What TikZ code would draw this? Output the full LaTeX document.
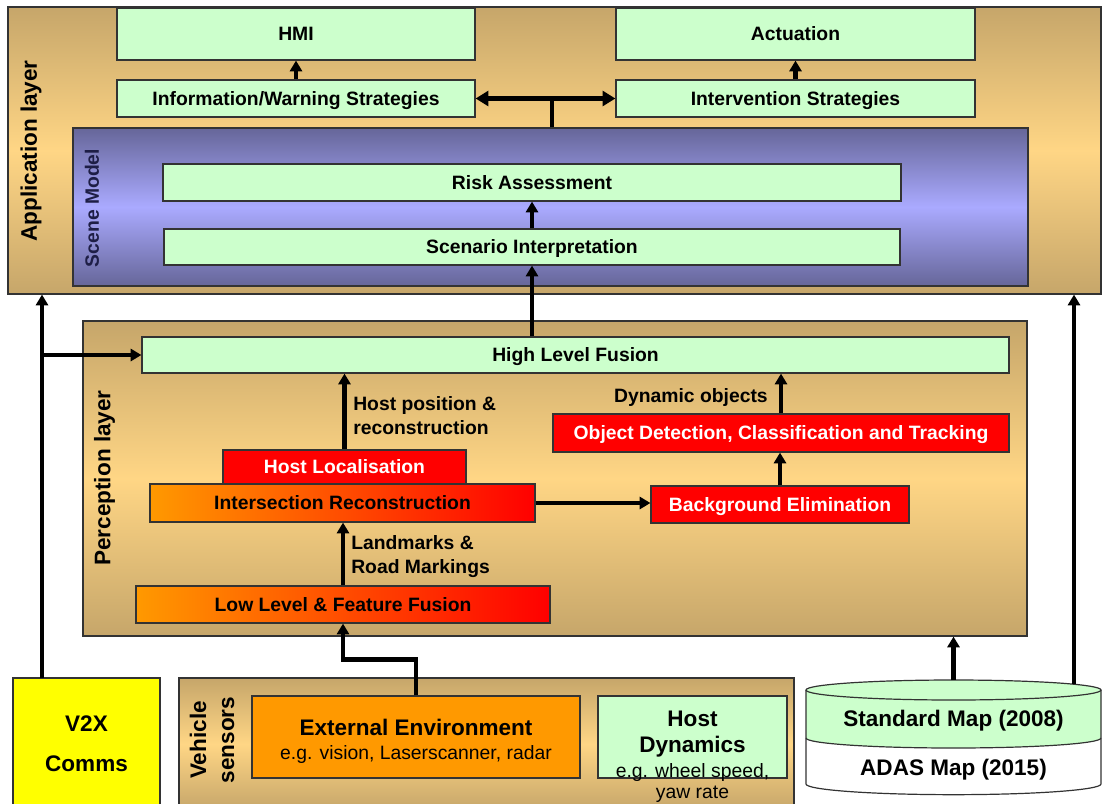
\documentclass[tikz,border=0pt]{standalone}
\usepackage{fontspec}
\setmainfont{Liberation Sans}
\usepackage{tikz}
\usetikzlibrary{arrows.meta,positioning,calc}
\definecolor{adtan}{RGB}{198,166,106}
\definecolor{adlight}{RGB}{255,214,133}
\definecolor{adpurp}{RGB}{102,102,153}
\definecolor{adlav}{RGB}{170,170,255}
\definecolor{adnavy}{RGB}{30,30,70}
\definecolor{adgreen}{RGB}{204,255,204}
\definecolor{adred}{RGB}{255,0,0}
\definecolor{adorange}{RGB}{255,153,0}
\definecolor{adyellow}{RGB}{255,255,0}
\definecolor{adedge}{RGB}{51,51,51}
\newcommand\adfont{\fontsize{14.5}{18}\selectfont}
\newcommand\adbig{\fontsize{16.9}{20}\selectfont}
\tikzset{
  adbox/.style={
    draw=adedge, line width=0.9pt, inner sep=0pt, align=center,
    font=\adfont\bfseries, text height=10.4pt, text depth=0pt
  },
  grn/.style={adbox, fill=adgreen},
  redbx/.style={adbox, fill=adred, text=white},
  ograd/.style={adbox, left color=adorange, right color=adred},
  laybox/.style={
    draw=adedge, line width=0.9pt, inner sep=0pt,
    top color=adtan, bottom color=adtan, middle color=adlight
  },
  scenebx/.style={
    draw=adedge, line width=0.9pt, inner sep=0pt,
    top color=adpurp, bottom color=adpurp, middle color=adlav
  },
  laylbl/.style={rotate=90, inner sep=0pt, font=\adbig\bfseries},
  bigtxt/.style={inner sep=0pt, font=\adbig\bfseries, text height=12.1pt, text depth=0pt},
  smalltxt/.style={inner sep=0pt, font=\adfont, text height=10.4pt, text depth=0pt},
  arrlbl/.style={inner sep=0pt, align=left, font=\adfont\bfseries},
  arr/.style={-{Triangle[length=8pt,width=9pt]}, line width=3.2pt},
  dblarr/.style={{Triangle[length=9.5pt,width=11pt]}-{Triangle[length=9.5pt,width=11pt]}, line width=3.4pt},
  thk/.style={line width=3.6pt},
  mapline/.style={draw=adedge, line width=0.9pt}
}
\begin{document}
\begin{tikzpicture}[x=0.75pt,y=-0.75pt]
  \useasboundingbox (0,0) rectangle (1102,803);
  % application layer
  \node[laybox, minimum width=819.75pt, minimum height=215.25pt] (app) at (554.5,150.5) {};
  \node[laylbl] (applbl) at (31,151) {Application layer};
  \node[grn, minimum width=268.5pt, minimum height=39pt] (hmi) at (296,34) {HMI};
  \node[grn, minimum width=269.25pt, minimum height=39pt] (act) at (795.5,34) {Actuation};
  \node[grn, minimum width=268.5pt, minimum height=27.75pt] (info) at (296,98.5) {Information/Warning Strategies};
  \node[grn, minimum width=269.25pt, minimum height=27.75pt] (interv) at (795.5,98.5) {Intervention Strategies};
  \node[scenebx, minimum width=716.25pt, minimum height=118.5pt] (scene) at (550.5,207) {};
  \node[laylbl, font=\adfont\bfseries, text=adnavy] (scenelbl) at (92,208) {Scene Model};
  \node[grn, minimum width=553.5pt, minimum height=27.75pt] (risk) at (532,182.5) {Risk Assessment};
  \node[grn, minimum width=552pt, minimum height=27pt] (scen) at (532,247) {Scenario Interpretation};
  % perception layer
  \node[laybox, minimum width=708pt, minimum height=236.25pt] (perc) at (555,478.5) {};
  \node[laylbl] (perclbl) at (104.5,478) {Perception layer};
  \node[grn, minimum width=650.25pt, minimum height=27pt] (hlf) at (575.5,355) {High Level Fusion};
  \node[redbx, minimum width=182.25pt, minimum height=25.5pt] (hostloc) at (344.5,467) {Host Localisation};
  \node[ograd, minimum width=288.75pt, minimum height=28.5pt] (isect) at (342.5,503) {Intersection Reconstruction};
  \node[redbx, minimum width=193.5pt, minimum height=27.75pt] (bgelim) at (780,504.5) {Background Elimination};
  \node[redbx, minimum width=342pt, minimum height=28.5pt] (odct) at (781,433) {Object Detection, Classification and Tracking};
  \node[ograd, minimum width=310.5pt, minimum height=27.75pt] (llff) at (343,604.5) {Low Level \& Feature Fusion};
  \node[arrlbl, anchor=west] (hostposlbl) at (353,416) {Host position \&\\reconstruction};
  \node[arrlbl, anchor=west] (landlbl) at (351,557) {Landmarks \&\\Road Markings};
  \node[smalltxt, font=\adfont\bfseries, anchor=east] (dynlbl) at (768,396) {Dynamic objects};
  % inputs
  \node[adbox, fill=adyellow, minimum width=110.25pt, minimum height=99pt] (v2x) at (86.5,744) {};
  \node[bigtxt] (v2xa) at (86.5,723) {V2X};
  \node[bigtxt] (v2xb) at (86.5,763) {Comms};
  \node[laybox, minimum width=461.25pt, minimum height=99pt] (vsens) at (486.5,744) {};
  \node[bigtxt, rotate=90] (vsensa) at (198,740) {Vehicle};
  \node[bigtxt, rotate=90] (vsensb) at (226,740) {sensors};
  \node[adbox, fill=adorange, minimum width=246pt, minimum height=61.5pt] (extenv) at (416,737) {};
  \node[bigtxt] (extenva) at (416,727) {External Environment};
  \node[smalltxt] (extenvb) at (416,753) {e.g. vision, Laserscanner, radar};
  \node[grn, minimum width=141.75pt, minimum height=61.5pt] (hostdyn) at (692.5,737) {};
  \node[bigtxt] (hostdyna) at (692.5,718) {Host};
  \node[bigtxt] (hostdynb) at (692.5,744) {Dynamics};
  \node[smalltxt] (hostdync) at (692.5,771) {e.g. wheel speed,};
  \node[smalltxt] (hostdynd) at (692.5,792) {yaw rate};
  % map store
  \coordinate (mapc) at (953.5,690);
  \coordinate (maptop) at (953.5,680);
  \coordinate (mapright) at (1074,684);
  \fill[white] (806,690) -- (806,784) arc[start angle=180, end angle=360, x radius=110.625pt, y radius=8pt] -- (1101,690) -- cycle;
  \fill[adgreen] (806,690) -- (806,738) arc[start angle=180, end angle=360, x radius=110.625pt, y radius=7.5pt] -- (1101,690) -- cycle;
  \draw[mapline, fill=adgreen] (mapc) ellipse [x radius=110.625pt, y radius=7.5pt];
  \draw[mapline] (806,690) -- (806,784) arc[start angle=180, end angle=360, x radius=110.625pt, y radius=8pt] -- (1101,690);
  \draw[mapline] (806,738) arc[start angle=180, end angle=360, x radius=110.625pt, y radius=7.5pt];
  \node[bigtxt] (stdmap) at (953.5,718) {Standard Map (2008)};
  \node[bigtxt] (adasmap) at (953.5,767) {ADAS Map (2015)};
  % connectors
  \coordinate (fork) at (552,98.5);
  \coordinate (v2xtap) at (42,678);
  \draw[arr] (info.north) -- (hmi.south);
  \draw[arr] (interv.north) -- (act.south);
  \draw[dblarr] (info.east) -- (interv.west);
  \draw[thk] (scene.north -| fork) -- (fork);
  \draw[arr] (scen.north) -- (risk.south);
  \draw[arr] (hlf.north -| scen) -- (scen.south);
  \draw[arr] (v2xtap) -- (v2xtap |- app.south);
  \draw[arr] (v2xtap |- hlf) -- (hlf.west);
  \draw[arr] (hostloc.north) -- (hostloc.north |- hlf.south);
  \draw[arr] (isect.east) -- (isect.east -| bgelim.west);
  \draw[arr] (bgelim.north) -- (bgelim.north |- odct.south);
  \draw[arr] (odct.north) -- (odct.north |- hlf.south);
  \draw[arr] (llff.north) -- (llff.north |- isect.south);
  \draw[arr] (extenv.north) -- ++(0,-36) -| (llff.south);
  \draw[arr] (maptop) -- (maptop |- perc.south);
  \draw[arr] (mapright) -- (mapright |- app.south);
\end{tikzpicture}
\end{document}
